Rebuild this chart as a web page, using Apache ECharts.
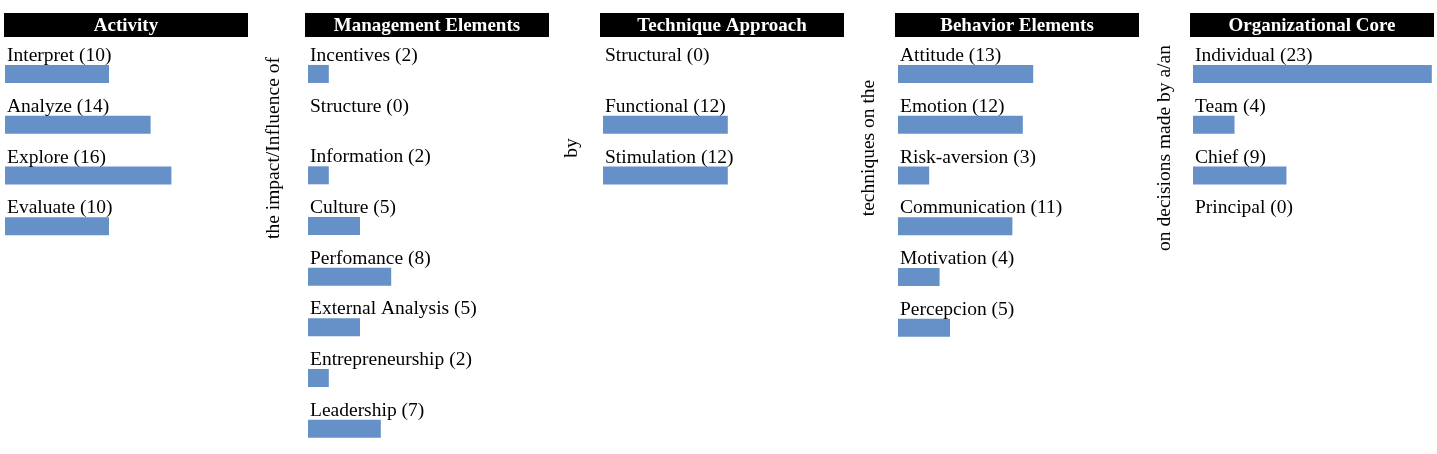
<!DOCTYPE html>
<html>
<head>
<meta charset="utf-8">
<script src="https://cdn.jsdelivr.net/npm/echarts@6/dist/echarts.min.js"></script>
<style>
html,body{margin:0;padding:0;background:#fff;}
#chart{width:1437px;height:454px;}
</style>
</head>
<body>
<div id="chart"></div>
<script>
// ---- data ----
const panelTitles = ["Activity", "Management Elements", "Technique Approach", "Behavior Elements", "Organizational Core"];

const activityNames = ["Interpret", "Analyze", "Explore", "Evaluate"];
const activityValues = [10, 14, 16, 10];

const managementNames = ["Incentives", "Structure", "Information", "Culture", "Perfomance", "External Analysis", "Entrepreneurship", "Leadership"];
const managementValues = [2, 0, 2, 5, 8, 5, 2, 7];

const techniqueNames = ["Structural", "Functional", "Stimulation"];
const techniqueValues = [0, 12, 12];

const behaviorNames = ["Attitude", "Emotion", "Risk-aversion", "Communication", "Motivation", "Percepcion"];
const behaviorValues = [13, 12, 3, 11, 4, 5];

const coreNames = ["Individual", "Team", "Chief", "Principal"];
const coreValues = [23, 4, 9, 0];

const connectorTexts = ["the impact/Influence of", "by", "techniques on the", "on decisions made by a/an"];

// ---- layout ----
const FONT = "'Liberation Serif', 'Times New Roman', serif";
const BAR_COLOR = "#6690C8";
const panels = [
  {names: activityNames, values: activityValues},
  {names: managementNames, values: managementValues},
  {names: techniqueNames, values: techniqueValues},
  {names: behaviorNames, values: behaviorValues},
  {names: coreNames, values: coreValues}
];
const barLefts = [5, 308, 603, 898, 1193];
const headerLefts = [4, 305, 600, 895, 1190];
const headerWidth = 244;
const connectorX = [274, 572, 869, 1165];
const ROW = 50.75;
const PX_PER_UNIT = 10.4;
const X_MAX = 23.5;
const GRID_TOP = 74 - ROW / 2;

const grids = [], xAxes = [], yAxes = [], series = [], graphics = [];

panels.forEach((p, i) => {
  grids.push({left: barLefts[i], top: GRID_TOP, width: X_MAX * PX_PER_UNIT, height: p.names.length * ROW});
  xAxes.push({gridIndex: i, type: 'value', min: 0, max: X_MAX, show: false});
  yAxes.push({gridIndex: i, type: 'category', inverse: true, data: p.names, show: false});
  series.push({
    type: 'bar',
    xAxisIndex: i,
    yAxisIndex: i,
    barWidth: 18,
    data: p.values,
    itemStyle: {color: BAR_COLOR},
    silent: true,
    label: {
      show: true,
      position: [2, -9],
      align: 'left',
      verticalAlign: 'middle',
      color: '#000',
      fontFamily: FONT,
      fontSize: 19.5,
      formatter: (d) => p.names[d.dataIndex] + ' (' + d.value + ')'
    }
  });
  graphics.push({
    type: 'group',
    left: headerLefts[i],
    top: 13,
    children: [
      {type: 'rect', shape: {x: 0, y: 0, width: headerWidth, height: 24}, style: {fill: '#000'}},
      {type: 'text', x: headerWidth / 2, y: 13, style: {text: panelTitles[i], fill: '#fff', font: 'bold 19px ' + FONT, textAlign: 'center', textVerticalAlign: 'middle'}}
    ]
  });
});

connectorTexts.forEach((t, i) => {
  graphics.push({
    type: 'text',
    x: connectorX[i],
    y: 148,
    rotation: Math.PI / 2,
    style: {text: t, fill: '#000', font: '19.5px ' + FONT, textAlign: 'center', textVerticalAlign: 'middle'}
  });
});

const chart = echarts.init(document.getElementById('chart'), null, {renderer: 'canvas'});
chart.setOption({
  animation: false,
  backgroundColor: '#fff',
  grid: grids,
  xAxis: xAxes,
  yAxis: yAxes,
  series: series,
  graphic: graphics
});
</script>
</body>
</html>
